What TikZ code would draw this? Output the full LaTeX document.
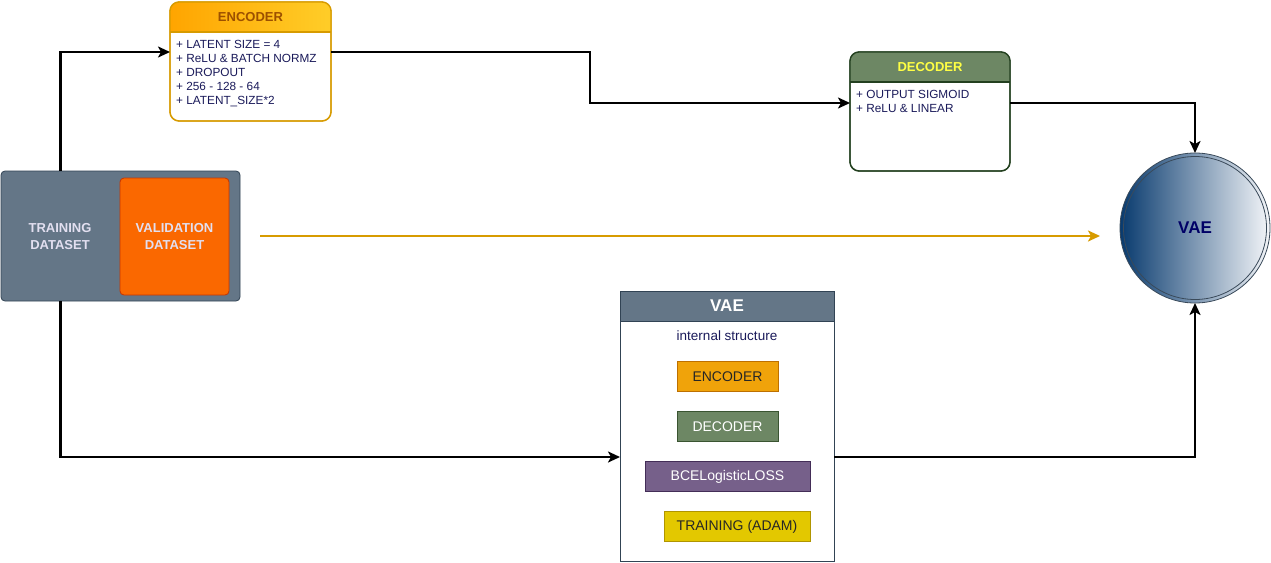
\documentclass[tikz,border=0pt]{standalone}
\usepackage{fontspec}
\setmainfont{Liberation Sans}
\usetikzlibrary{arrows.meta,shapes.geometric}
\definecolor{dsF}{HTML}{647687}
\definecolor{dsB}{HTML}{314354}
\definecolor{valF}{HTML}{FA6800}
\definecolor{valB}{HTML}{C73500}
\definecolor{encB}{HTML}{D79B00}
\definecolor{encT}{HTML}{FFCD28}
\definecolor{encBo}{HTML}{FFA500}
\definecolor{encTitle}{HTML}{9C5000}
\definecolor{decF}{HTML}{6D8764}
\definecolor{decB}{HTML}{23401F}
\definecolor{decTitle}{HTML}{FFFF44}
\definecolor{txtB}{HTML}{1A1A5A}
\definecolor{lav}{HTML}{E2DFF0}
\definecolor{sEncF}{HTML}{F0A30A}
\definecolor{sEncB}{HTML}{BD7000}
\definecolor{sDecB}{HTML}{3A5431}
\definecolor{bceF}{HTML}{76608A}
\definecolor{bceB}{HTML}{432D57}
\definecolor{trF}{HTML}{E3C800}
\definecolor{trB}{HTML}{B09500}
\definecolor{cL}{HTML}{083A6E}
\definecolor{cR}{HTML}{F4F6F9}
\definecolor{cBorder}{HTML}{3A4A5A}
\definecolor{vaeTxt}{HTML}{000066}
\definecolor{goldLine}{HTML}{D79B00}
\begin{document}
\begin{tikzpicture}[x=1pt,y=-1pt,
  conn/.style={line width=2.6pt, -{Stealth[length=12pt,width=11pt,inset=3pt]}},
  goldconn/.style={line width=2.6pt, goldLine, -{Stealth[length=12pt,width=11pt,inset=3pt]}},
  panel/.style={inner sep=0pt, outer sep=0pt},
  smallbox/.style={inner sep=0pt, outer sep=0pt, minimum height=30pt, line width=0.9pt, font=\fontsize{14}{16}\selectfont},
  bodytxt/.style={anchor=north west, align=left, inner sep=0pt, text=txtB, font=\fontsize{11.8}{14}\selectfont},
  ]
\useasboundingbox (0,0) rectangle (1271,562);
\fill[white] (0,0) rectangle (1271,562);

% ---------- dataset group ----------
\node[panel, draw=dsB, fill=dsF, rounded corners=4pt, line width=0.8pt,
      minimum width=239pt, minimum height=130pt] (ds) at (120.5,236) {};
\node[panel, draw=valB, fill=valF, rounded corners=4pt, line width=0.8pt,
      minimum width=109pt, minimum height=117pt] (val) at (174.5,236.5) {};
\node[align=center, text=lav, font=\bfseries\fontsize{13}{17}\selectfont] (trtxt) at (60,236.5) {TRAINING\\DATASET};
\node[align=center, text=lav, font=\bfseries\fontsize{13}{17}\selectfont] (valtxt) at (val.center) {VALIDATION\\DATASET};

% ---------- encoder ----------
\node[panel, draw=encB, fill=white, rounded corners=9pt, line width=1.3pt,
      minimum width=161pt, minimum height=119pt] (enc) at (250.5,61.5) {};
\begin{scope}
  \clip[rounded corners=9pt] (enc.north west) rectangle (enc.south east);
  \shade[left color=encBo, right color=encT] (enc.north west) rectangle ([yshift=-30pt]enc.north east);
\end{scope}
\draw[encB, line width=1.3pt] ([yshift=-30pt]enc.north west) -- ([yshift=-30pt]enc.north east);
\draw[encB, line width=1.3pt, rounded corners=9pt] (enc.north west) rectangle (enc.south east);
\node[text=encTitle, font=\bfseries\fontsize{13}{15}\selectfont] (enctitle) at ([yshift=-15pt]enc.north) {ENCODER};
\node[bodytxt] (enctxt) at (176,39.8) {+ LATENT SIZE = 4\\+ ReLU \& BATCH NORMZ\\+ DROPOUT\\+ 256 - 128 - 64\\+ LATENT\_SIZE*2};

% ---------- decoder ----------
\node[panel, draw=decB, fill=white, rounded corners=9pt, line width=1.3pt,
      minimum width=160pt, minimum height=119pt] (dec) at (930,111.5) {};
\begin{scope}
  \clip[rounded corners=9pt] (dec.north west) rectangle (dec.south east);
  \fill[decF] (dec.north west) rectangle ([yshift=-30pt]dec.north east);
\end{scope}
\draw[decB, line width=1.3pt] ([yshift=-30pt]dec.north west) -- ([yshift=-30pt]dec.north east);
\draw[decB, line width=1.3pt, rounded corners=9pt] (dec.north west) rectangle (dec.south east);
\node[text=decTitle, font=\bfseries\fontsize{13}{15}\selectfont] (dectitle) at ([yshift=-15pt]dec.north) {DECODER};
\node[bodytxt] (dectxt) at (856,89.8) {+ OUTPUT SIGMOID\\+ ReLU \& LINEAR};

% ---------- VAE circle ----------
\node[circle, inner sep=0pt, outer sep=0pt, minimum size=150pt, left color=cL, right color=cR,
      draw=cBorder, line width=0.8pt, text=vaeTxt, font=\bfseries\fontsize{17}{19}\selectfont] (vae) at (1195,228) {VAE};
\draw[cBorder, line width=0.8pt] (vae.center) circle (71.5pt);

% ---------- VAE internal structure ----------
\node[panel, draw=dsB, fill=white, line width=0.9pt, minimum width=214pt, minimum height=270pt] (vbox) at (727,426) {};
\node[panel, draw=dsB, fill=dsF, line width=0.9pt, anchor=north, minimum width=214pt, minimum height=30pt,
      text=white, font=\bfseries\fontsize{17}{19}\selectfont] (vhead) at (vbox.north) {VAE};
\node[text=txtB, font=\fontsize{13.5}{15}\selectfont] (intl) at (727,336) {internal structure};
\node[smallbox, draw=sEncB, fill=sEncF, minimum width=101pt, text=black!85] (senc) at (727.5,376.5) {ENCODER};
\node[smallbox, draw=sDecB, fill=decF, minimum width=101pt, text=white] (sdec) at (727.5,426.5) {DECODER};
\node[smallbox, draw=bceB, fill=bceF, minimum width=165pt, text=white] (sbce) at (727.5,476.5) {BCELogisticLOSS};
\node[smallbox, draw=trB, fill=trF, minimum width=146pt, text=black!85] (strain) at (737,526.5) {TRAINING (ADAM)};

% ---------- connectors ----------
\draw[conn] ([xshift=-60pt]ds.north) |- ([yshift=9.5pt]enc.west);
\draw[conn] ([yshift=9.5pt]enc.east) -- ++(259,0) |- ([yshift=8.5pt]dec.west);
\draw[conn] ([yshift=8.5pt]dec.east) -| (vae.north);
\coordinate (g1) at (260,236);
\coordinate (g2) at (1100,236);
\draw[goldconn] (g1) -- (g2);
\draw[conn] ([xshift=-60pt]ds.south) |- ([yshift=-31pt]vbox.west);
\draw[conn] ([yshift=-31pt]vbox.east) -| (vae.south);
\end{tikzpicture}
\end{document}
